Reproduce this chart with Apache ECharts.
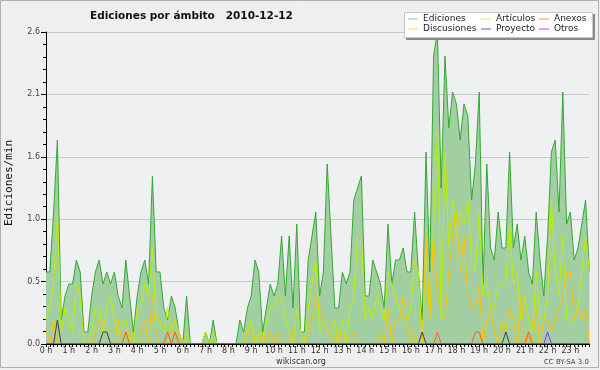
<!DOCTYPE html>
<html><head><meta charset="utf-8">
<script src="https://cdn.jsdelivr.net/npm/echarts@6/dist/echarts.min.js"></script>
<style>html,body{margin:0;padding:0;background:#efefef;}#c{width:600px;height:370px;}</style>
</head><body><div id="c"></div>
<script>
// ---- data (10-minute buckets, edits per minute) ----
var times = [];
for (var h = 0; h < 24; h++) { for (var m = 0; m < 60; m += 10) { times.push((h < 10 ? '0' : '') + h + ':' + (m === 0 ? '00' : m)); } }
var hourLabels = ['0 h','1 h','2 h','3 h','4 h','5 h','6 h','7 h','8 h','9 h','10 h','11 h','12 h','13 h','14 h','15 h','16 h','17 h','18 h','19 h','20 h','21 h','22 h','23 h'];
var ediciones = [
 0.6,0.6,1.1,1.7,0.2,0.4, 0.5,0.5,0.7,0.6,0.1,0.1, 0.4,0.6,0.7,0.5,0.6,0.5, 0.6,0.4,0.3,0.7,0.4,0.1,
 0.4,0.6,0.7,0.5,1.4,0.6, 0.6,0.3,0.2,0.4,0.3,0.1, 0,0.4,0,0,0,0, 0.1,0,0.2,0,0,0,
 0,0,0,0.2,0.1,0.3, 0.4,0.7,0.6,0.1,0.3,0.5, 0.4,0.5,0.9,0.4,0.9,0.3, 1.0,0.1,0.1,0.7,0.9,1.1,
 0.4,0.6,1.5,0.9,0.3,0.3, 0.6,0.5,0.6,1.2,1.3,1.4, 0.4,0.4,0.7,0.6,0.5,0.3, 1.0,0.5,0.7,0.7,0.8,0.6,
 0.6,1.1,0.6,0.2,1.6,0.6, 2.4,2.6,1.3,2.4,1.8,2.1, 2.0,1.7,2.0,1.9,1.2,1.5, 2.1,0.5,1.5,0.8,0.7,1.1,
 0.8,0.8,1.6,0.8,1.0,0.7, 0.9,0.6,0.5,1.1,0.7,0.4, 0.9,1.6,1.7,1.1,2.1,1.0, 1.1,0.7,0.8,1.0,1.2,0.6
];
var articulos = [
 0.2,0.3,0.5,1.1,0.1,0.3, 0.2,0.1,0.5,0.4,0,0, 0.1,0.3,0.3,0.1,0.3,0.4, 0.2,0.1,0.2,0.2,0,0,
 0.3,0.3,0.5,0.4,0.8,0.2, 0.2,0.1,0.3,0.1,0.2,0.1, 0,0.1,0,0,0,0, 0.1,0,0.1,0,0,0,
 0,0,0,0,0,0.1, 0.2,0,0.1,0,0.2,0.3, 0.3,0.4,0.4,0.2,0.1,0, 0.3,0.1,0,0.3,0.5,0.7,
 0.1,0.2,0.1,0.1,0.2,0, 0.2,0,0.3,0.4,0.9,0.9, 0.2,0.3,0.2,0.4,0.3,0.2, 0.6,0.5,0.4,0.3,0.2,0.2,
 0.3,0.7,0.6,0,0.8,0.2, 1.0,1.8,0.2,1.6,0.8,1.2, 0.9,1.1,1.0,1.2,0.7,0.6, 1.1,0.4,0.5,0.3,0.3,0.5,
 0.5,0.5,1.0,0.5,0.6,0.2, 0.4,0.2,0.1,0.6,0.2,0.2, 0.4,1.2,0.6,0.4,0.9,0.2, 0.2,0.2,0.3,0.6,0.9,0.6
];
var discusiones = [
 0.1,0,0.2,0,0,0, 0,0,0,0,0,0, 0,0.1,0.2,0.2,0.1,0, 0,0.2,0,0.1,0.1,0,
 0,0.1,0.2,0,0.4,0.1, 0,0,0.1,0.1,0.1,0.1, 0,0,0,0,0,0, 0,0,0,0,0,0,
 0,0,0,0,0,0.1, 0.1,0,0,0.1,0,0.1, 0,0.1,0,0,0,0.1, 0,0,0,0.1,0.2,0.4,
 0.3,0.2,0.1,0.1,0,0.1, 0,0,0.1,0.1,0,0, 0,0,0,0,0.1,0, 0.3,0,0.2,0.2,0.4,0.2,
 0,0.1,0,0,0.9,0.2, 0.9,0.4,0.3,0.2,0.6,0.9, 1.1,0.6,0.9,0.4,0.3,0.3, 0.5,0,0.2,0.3,0.1,0,
 0.2,0.1,0.3,0.2,0,0.4, 0,0.1,0,0.3,0,0.2, 0.2,0.1,0.2,0.3,0.4,0.6, 0.6,0.2,0.3,0.2,0.3,0
];
var anexos = [
 0,0,0,0,0,0, 0,0,0,0,0,0, 0,0,0,0,0,0, 0,0,0,0.1,0,0,
 0,0,0,0,0,0, 0,0,0.1,0,0.1,0, 0,0,0,0,0,0, 0,0,0,0,0,0,
 0,0,0,0,0,0, 0,0,0,0,0,0, 0,0,0,0,0,0, 0,0,0,0,0,0,
 0,0,0,0,0,0, 0,0,0,0,0,0, 0,0,0,0,0,0, 0,0,0,0,0,0,
 0,0,0,0,0,0, 0,0.1,0,0,0,0, 0,0,0,0,0,0.1, 0.1,0,0,0,0,0,
 0,0,0,0,0,0, 0,0.1,0,0,0,0, 0,0,0,0,0,0, 0,0,0,0,0,0
];
var proyecto = [
 0,0,0,0.2,0,0, 0,0,0,0,0,0, 0,0,0,0.1,0.1,0, 0,0,0,0,0,0,
 0,0,0,0,0,0, 0,0,0,0,0,0, 0,0,0,0,0,0, 0,0,0,0,0,0,
 0,0,0,0,0,0, 0,0,0,0,0,0, 0,0,0,0,0,0, 0,0,0,0,0,0,
 0,0,0,0,0,0, 0,0,0,0,0,0, 0,0,0,0,0,0, 0,0,0,0,0,0,
 0,0,0,0.1,0,0, 0,0,0,0,0,0, 0,0,0,0,0,0, 0,0,0,0,0,0,
 0,0.1,0,0,0,0, 0,0,0,0,0,0, 0,0,0,0,0,0, 0,0,0,0,0,0
];
var otros = [
 0,0,0,0,0,0, 0,0,0,0,0,0, 0,0,0,0,0,0, 0,0,0,0,0,0,
 0,0,0,0,0,0, 0,0,0,0,0,0, 0,0,0,0,0,0, 0,0,0,0,0,0,
 0,0,0,0,0,0, 0,0,0,0,0,0, 0,0,0,0,0,0, 0,0,0,0,0,0,
 0,0,0,0,0,0, 0,0,0,0,0,0, 0,0,0,0,0,0, 0,0,0,0,0,0,
 0,0,0,0,0,0, 0,0,0,0,0,0, 0,0,0,0,0,0, 0,0,0,0,0,0,
 0,0,0,0,0,0, 0,0,0,0,0,0, 0.1,0,0,0,0,0, 0,0,0,0,0,0
];

var chart = echarts.init(document.getElementById('c'), null, {renderer: 'canvas'});
function ln(name, data, color, extra) {
  var s = {name: name, type: 'line', data: data, symbol: 'none', animation: false,
    lineStyle: {color: color, width: 1}, itemStyle: {color: color}, emphasis: {disabled: true}};
  if (extra) for (var k in extra) s[k] = extra[k];
  return s;
}
var legFont = {fontFamily: 'DejaVu Sans', fontSize: 9, color: '#222', lineHeight: 10};
function leg(left, items) {
  return {orient: 'vertical', left: left, top: 14, itemWidth: 10, itemHeight: 1, itemGap: 0,
    icon: 'rect', padding: 0, z: 60, selectedMode: false, textStyle: legFont, data: items};
}
chart.setOption({
  backgroundColor: '#efefef',
  animation: false,
  title: {text: 'Ediciones por ámbito   2010-12-12', left: 85, top: 6,
    textStyle: {fontFamily: 'DejaVu Sans', fontWeight: 'bold', fontSize: 10.5, color: '#111'}},
  grid: {left: 46, right: 10.6, top: 32, bottom: 26, show: true, backgroundColor: '#eef0f2', borderWidth: 0},
  legend: [
    leg(408, [{name: 'Ediciones', itemStyle: {color: '#88d888'}}, {name: 'Discusiones', itemStyle: {color: '#ffd044'}}]),
    leg(481, [{name: 'Artículos', itemStyle: {color: '#ccff55'}}, {name: 'Proyecto', itemStyle: {color: '#666666'}}]),
    leg(539, [{name: 'Anexos', itemStyle: {color: '#ff8855'}}, {name: 'Otros', itemStyle: {color: '#9955ff'}}])
  ],
  xAxis: {type: 'category', data: times, boundaryGap: false, z: 10,
    axisLine: {lineStyle: {color: '#000', width: 1}},
    axisTick: {interval: 0, length: 3, lineStyle: {color: '#000'}},
    axisLabel: {interval: 5, margin: 3, fontFamily: 'DejaVu Sans', fontSize: 8, color: '#333',
      formatter: function (v, i) { return hourLabels[Math.round(i / 6)]; }},
    splitLine: {show: false}},
  yAxis: {type: 'value', min: 0, max: 2.6, interval: 0.52,
    axisLine: {show: true, lineStyle: {color: '#000', width: 1}},
    axisTick: {show: true, length: 5, lineStyle: {color: '#000'}},
    minorTick: {show: true, splitNumber: 5, length: 3, lineStyle: {color: '#000'}},
    axisLabel: {margin: 6, fontFamily: 'DejaVu Sans', fontSize: 8, color: '#444',
      formatter: function (v) { return v.toFixed(1); }},
    splitLine: {lineStyle: {color: '#c8c8c8', width: 1}}},
  series: [
    ln('Ediciones', ediciones, '#35a835', {areaStyle: {color: '#a2cfa2', opacity: 1}}),
    ln('Artículos', articulos, '#bbee00'),
    ln('Discusiones', discusiones, '#ffc200'),
    ln('Anexos', anexos, '#ff5a1a'),
    ln('Proyecto', proyecto, '#404040'),
    ln('Otros', otros, '#7f2fff')
  ],
  graphic: {elements: [
    {type: 'rect', z: 100, shape: {x: 0.5, y: 0.5, width: 598, height: 367}, style: {fill: 'none', stroke: '#b0b0b0', lineWidth: 1}},
    {type: 'rect', z: 50, shape: {x: 406, y: 14, width: 189, height: 26}, style: {fill: '#8a8a8a'}},
    {type: 'rect', z: 51, shape: {x: 404.5, y: 12.5, width: 188, height: 25}, style: {fill: '#ffffff', stroke: '#c8c8c8', lineWidth: 1}},
    {type: 'text', z: 60, x: 9, y: 183, rotation: Math.PI / 2,
      style: {text: 'Ediciones/min', font: '11px "DejaVu Sans Mono"', fill: '#111', align: 'center', verticalAlign: 'middle'}},
    {type: 'text', z: 60, x: 301, y: 362, style: {text: 'wikiscan.org', font: '8px "DejaVu Sans"', fill: '#333', align: 'center', verticalAlign: 'middle'}},
    {type: 'text', z: 60, x: 589, y: 362.5, style: {text: 'CC BY-SA 3.0', font: '7px "DejaVu Sans"', fill: '#444', align: 'right', verticalAlign: 'middle'}}
  ]}
});
</script></body></html>
